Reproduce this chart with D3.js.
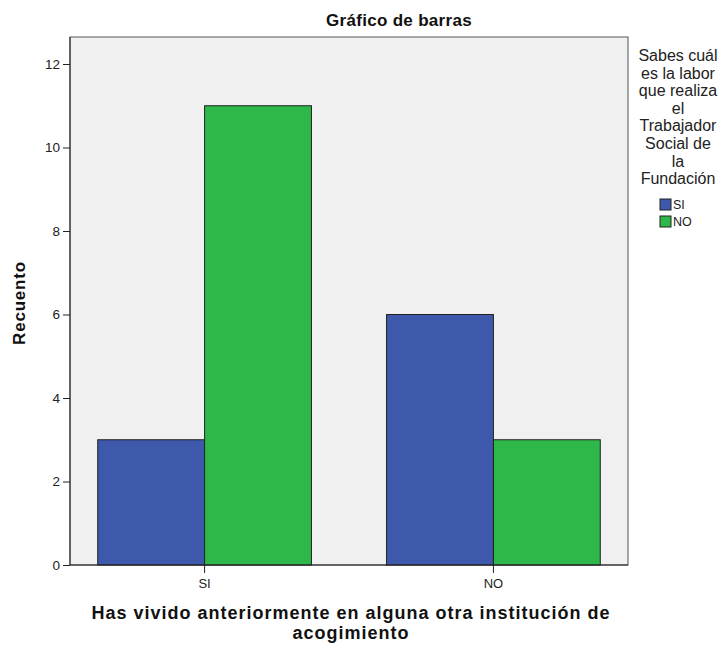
<!DOCTYPE html>
<html>
<head>
<meta charset="utf-8">
<script src="https://cdn.jsdelivr.net/npm/d3@7"></script>
<style>
  html, body { margin: 0; padding: 0; background: #fff; }
  text { font-family: Arial, "Liberation Sans", sans-serif; }
</style>
</head>
<body>
<svg id="chart" width="723" height="646"></svg>
<script>
// Grouped counts: x category = lived in another institution; series = knows the social worker's role
const categories = ["SI", "NO"];
const seriesNames = ["SI", "NO"];
const seriesColors = ["#3e58ac", "#2eb84a"];
const countsSI = [3, 6];   // series "SI" per category
const countsNO = [11, 3];  // series "NO" per category
const yTicks = [0, 2, 4, 6, 8, 10, 12];
const legendTitle = ["Sabes cuál", "es la labor", "que realiza", "el", "Trabajador", "Social de", "la", "Fundación"];

const rows = categories.map((c, i) => ({ cat: c, values: [countsSI[i], countsNO[i]] }));

const svg = d3.select("#chart");
const plot = { left: 70, top: 37, right: 628, bottom: 565 };

const x = d3.scaleBand().domain(categories).range([plot.left, plot.right]).paddingInner(0.26).paddingOuter(0.096);
const xs = d3.scaleBand().domain(seriesNames).range([0, x.bandwidth()]).padding(0);
const y = d3.scaleLinear().domain([0, 12]).range([plot.bottom, 64]);

// plot background and frame
svg.append("rect")
  .attr("x", plot.left).attr("y", plot.top)
  .attr("width", plot.right - plot.left).attr("height", plot.bottom - plot.top)
  .attr("fill", "#f0f0f0").attr("stroke", "#555").attr("stroke-width", 1);

// bars
const g = svg.append("g");
rows.forEach(r => {
  r.values.forEach((v, j) => {
    g.append("rect")
      .attr("x", x(r.cat) + xs(seriesNames[j]))
      .attr("y", y(v))
      .attr("width", xs.bandwidth())
      .attr("height", y(0) - y(v))
      .attr("fill", seriesColors[j])
      .attr("stroke", "#222").attr("stroke-width", 1);
  });
});

// y axis
const yAxis = svg.append("g").attr("transform", `translate(${plot.left},0)`)
  .call(d3.axisLeft(y).tickValues(yTicks).tickSize(7).tickPadding(3).tickFormat(d3.format("d")));
yAxis.select(".domain").attr("stroke", "#222").attr("d", `M0,${plot.top}V${plot.bottom}`);
yAxis.selectAll(".tick line").attr("stroke", "#222");
yAxis.selectAll("text").attr("font-size", 13.5).attr("fill", "#222");

// x axis
const xAxis = svg.append("g").attr("transform", `translate(0,${plot.bottom})`)
  .call(d3.axisBottom(x).tickSize(8).tickPadding(6));
xAxis.select(".domain").attr("stroke", "#222").attr("d", `M${plot.left},0H${plot.right}`);
xAxis.selectAll(".tick line").attr("stroke", "#222");
xAxis.selectAll("text").attr("font-size", 13).attr("fill", "#222");

// title
svg.append("text").attr("x", 399).attr("y", 26).attr("text-anchor", "middle")
  .attr("font-size", 17).attr("letter-spacing", 0.3).attr("font-weight", "bold").attr("fill", "#111")
  .text("Gráfico de barras");

// axis titles
svg.append("text").attr("transform", "translate(25,303) rotate(-90)").attr("text-anchor", "middle")
  .attr("font-size", 17).attr("letter-spacing", 0.8).attr("font-weight", "bold").attr("fill", "#111")
  .text("Recuento");
svg.append("text").attr("x", 351).attr("y", 619).attr("text-anchor", "middle")
  .attr("font-size", 18).attr("letter-spacing", 1).attr("font-weight", "bold").attr("fill", "#111")
  .text("Has vivido anteriormente en alguna otra institución de");
svg.append("text").attr("x", 351).attr("y", 639).attr("text-anchor", "middle")
  .attr("font-size", 18).attr("letter-spacing", 1).attr("font-weight", "bold").attr("fill", "#111")
  .text("acogimiento");

// legend
const lg = svg.append("g");
legendTitle.forEach((t, i) => {
  lg.append("text").attr("x", 678).attr("y", 61 + i * 17.6).attr("text-anchor", "middle")
    .attr("font-size", 16).attr("fill", "#222").text(t);
});
seriesNames.forEach((s, i) => {
  lg.append("rect").attr("x", 660).attr("y", 199 + i * 17).attr("width", 11).attr("height", 11)
    .attr("fill", seriesColors[i]).attr("stroke", "#222").attr("stroke-width", 1);
  lg.append("text").attr("x", 673).attr("y", 209 + i * 17).attr("font-size", 12.5).attr("fill", "#222").text(s);
});
</script>
</body>
</html>
